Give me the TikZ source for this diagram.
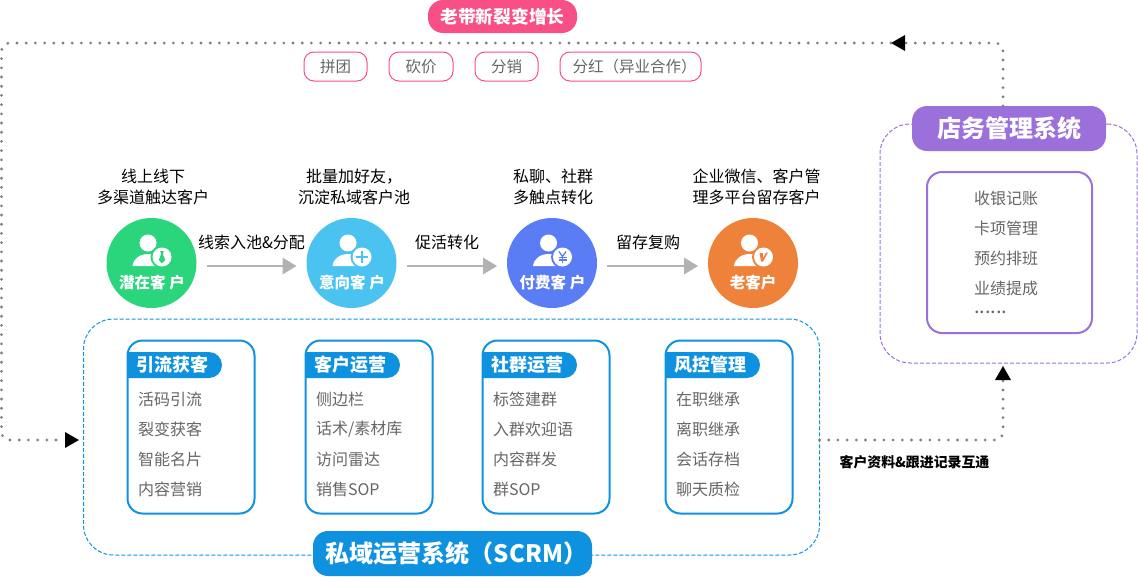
\documentclass[tikz,border=0pt]{standalone}
\usepackage{fontspec}
\setmainfont{Noto Sans CJK SC}
\usetikzlibrary{arrows.meta,shapes.misc}
\definecolor{RoseTag}{HTML}{F94F87}
\definecolor{ScrmBlue}{HTML}{0E92E0}
\definecolor{ShopPurple}{HTML}{9B70DB}
\definecolor{DotGray}{HTML}{7F7F7F}
\definecolor{FlowGray}{HTML}{B2B2B2}
\definecolor{ItemGray}{HTML}{666666}
\definecolor{LeadGreen}{HTML}{2AD57C}
\definecolor{IntentBlue}{HTML}{4AC3F0}
\definecolor{PayIndigo}{HTML}{5A7CF5}
\definecolor{OldOrange}{HTML}{EE823A}
\tikzset{
  every node/.append style={outer sep=0pt},
  dotline/.style={DotGray, line width=3.1pt, line cap=round, dash pattern=on 0pt off 9.2pt, rounded corners=8pt},
  dottip/.style={-{Triangle[length=14pt,width=16pt,line width=0pt,color=black,fill=black]}},
  flow/.style={FlowGray, line width=2pt, -{Triangle[length=14pt,width=17pt,line width=0pt]}, shorten <=10pt, shorten >=10pt},
  frame/.style={line width=1pt, dash pattern=on 4pt off 2pt, rounded corners=30pt, inner sep=0pt},
  client/.style={circle, minimum size=90pt, inner sep=0pt},
  clientname/.style={text=white, inner sep=0pt, font=\fontsize{15.5}{18}\selectfont\bfseries},
  lead/.style={text=black, inner sep=0pt, align=center, font=\fontsize{16}{21}\selectfont},
  item/.style={text=ItemGray, inner sep=0pt, anchor=west, font=\fontsize{16}{20}\selectfont},
  card/.style={draw=ScrmBlue, line width=2pt, fill=white, rounded corners=15pt, minimum width=127pt, minimum height=173pt, inner sep=0pt},
  cardtag/.style={rounded rectangle, rounded rectangle left arc=none, fill=ScrmBlue, text=white, anchor=west, minimum width=95pt, minimum height=26pt, inner sep=0pt, font=\fontsize{18}{20}\selectfont\bfseries},
  promo/.style={draw=RoseTag, line width=1pt, rounded corners=10pt, text=ItemGray, minimum height=29pt, inner sep=0pt, font=\fontsize{15.5}{20}\selectfont},
}
% person with a small badge on the coloured disc
\newcommand{\clientmark}[3]{
\begin{scope}[shift={(#1,0)}]
\fill[white] (-3.5,243) circle (8.5pt);
\fill[white] (-19,266) .. controls (-18,258) and (-11,254) .. (-3,254) .. controls (5,254) and (12,258) .. (13,266) -- cycle;
\fill[#2] (10.5,257) circle (11.5pt);
\fill[white] (10.5,257) circle (9.5pt);
\begin{scope}[shift={(10.5,257)}, #2]
#3
\end{scope}
\end{scope}
}
\begin{document}
\begin{tikzpicture}[x=1pt,y=-1pt]
\useasboundingbox (0,0) rectangle (1138,576);
% dashed frames
\node[draw=ScrmBlue, frame, minimum width=736pt, minimum height=236pt] (scrm) at (451.5,437) {};
\node[draw=ShopPurple, frame, minimum width=257pt, minimum height=239pt] (shopframe) at (1008.5,243.5) {};
% loop of dots
\coordinate (tiptop) at (891,43);
\coordinate (tipleft) at (79,440);
\coordinate (tipshop) at (1003,366);
\coordinate (cornertl) at (1.5,43);
\coordinate (cornerbl) at (1.5,440);
\node[fill=ShopPurple, rounded corners=15pt, text=white, minimum width=194pt, minimum height=45pt, inner sep=0pt, font=\fontsize{24}{28}\selectfont\bfseries] (shop) at (1009,128.5) {店务管理系统};
\draw[dotline, dottip] ([xshift=-6pt]shop.north) |- (tiptop);
\draw[dotline, dottip] (tiptop) -- (cornertl) -- (cornerbl) -- (tipleft);
\draw[dotline, dottip] ([yshift=-3pt]scrm.east) -| (tipshop);
% top tags
\node[fill=RoseTag, rounded corners=15pt, text=white, minimum width=149pt, minimum height=33pt, inner sep=0pt, font=\fontsize{17.7}{20}\selectfont\bfseries] (oldnew) at (502.5,16.5) {老带新裂变增长};
\node[promo, minimum width=63pt] (pintuan) at (335.5,66.5) {拼团};
\node[promo, minimum width=64pt] (kanjia) at (421,66.5) {砍价};
\node[promo, minimum width=63pt] (fenxiao) at (506.5,66.5) {分销};
\node[promo, minimum width=141pt] (fenhong) at (630.5,66.5) {\hspace*{8pt}分红（异业合作）};
% leads above the discs
\node[lead] (leadone) at (153,187) {线上线下\\多渠道触达客户};
\node[lead] (leadtwo) at (354,187) {批量加好友，\\沉淀私域客户池};
\node[lead] (leadthree) at (553,187) {私聊、社群\\多触点转化};
\node[lead] (leadfour) at (756.5,187) {企业微信、客户管\\理多平台留存客户};
% discs
\node[client, fill=LeadGreen] (potential) at (151.5,263) {};
\node[client, fill=IntentBlue] (intent) at (351.5,263) {};
\node[client, fill=PayIndigo] (paying) at (552,263) {};
\node[client, fill=OldOrange] (loyal) at (753,263) {};
%
\clientmark{151.5}{LeadGreen}{\fill (-1.8,-6) -- (1.8,-6) -- (0.9,-3) -- (3.2,3) -- (0,6.5) -- (-3.2,3) -- (-0.9,-3) -- cycle;}
\clientmark{351.5}{IntentBlue}{\draw[line width=2pt] (-6,0) -- (6,0); \draw[line width=2pt] (0,-6) -- (0,6);}
\clientmark{552}{PayIndigo}{\draw[line width=1.3pt] (-3.5,-5.5) -- (0,-0.5) -- (3.5,-5.5); \draw[line width=1.3pt] (0,-0.5) -- (0,6); \draw[line width=1.1pt] (-4,0.5) -- (4,0.5); \draw[line width=1.1pt] (-4,3) -- (4,3);}
\clientmark{753}{OldOrange}{\fill (-4,-4) -- (-0.8,-4) -- (-0.2,1) -- (2.5,-4.5) -- (4.5,-4.5) -- (-0.5,4.5) -- (-2.5,4.5) -- cycle;}
%
\node[clientname] (potentialname) at (152,283) {潜在客 户};
\node[clientname] (intentname) at (352,283) {意向客 户};
\node[clientname] (payingname) at (552.5,283) {付费客 户};
\node[clientname] (loyalname) at (753,283) {老客户};
% flow between the discs
\draw[flow] ([yshift=-3pt]potential.east) -- ([yshift=-3pt]intent.west);
\draw[flow] ([yshift=-3pt]intent.east) -- ([yshift=-3pt]paying.west);
\draw[flow] ([yshift=-3pt]paying.east) -- ([yshift=-3pt]loyal.west);
\node[lead] (flowone) at (251.5,242) {线索入池\&分配};
\node[lead] (flowtwo) at (447,242) {促活转化};
\node[lead] (flowthree) at (648,242) {留存复购};
% scrm cards
\node[card] (cardone) at (191,427) {};
\node[card] (cardtwo) at (369,427) {};
\node[card] (cardthree) at (546,427) {};
\node[card] (cardfour) at (729,427) {};
%
\node[cardtag] (tagone) at (127,365) {引流获客};
\node[cardtag] (tagtwo) at (305,365) {客户运营};
\node[cardtag] (tagthree) at (482,365) {社群运营};
\node[cardtag] (tagfour) at (665,365) {风控管理};
%
\node[item] (itemoa) at (138,399) {活码引流};
\node[item] (itemob) at (138,429) {裂变获客};
\node[item] (itemoc) at (138,459) {智能名片};
\node[item] (itemod) at (138,489) {内容营销};
%
\node[item] (itemta) at (316,399) {侧边栏};
\node[item] (itemtb) at (316,429) {话术/素材库};
\node[item] (itemtc) at (316,459) {访问雷达};
\node[item] (itemtd) at (316,489) {销售SOP};
%
\node[item] (itemra) at (493,399) {标签建群};
\node[item] (itemrb) at (493,429) {入群欢迎语};
\node[item] (itemrc) at (493,459) {内容群发};
\node[item] (itemrd) at (493,489) {群SOP};
%
\node[item] (itemfa) at (676,399) {在职继承};
\node[item] (itemfb) at (676,429) {离职继承};
\node[item] (itemfc) at (676,459) {会话存档};
\node[item] (itemfd) at (676,489) {聊天质检};
%
\node[fill=ScrmBlue, rounded corners=15pt, text=white, minimum width=279pt, minimum height=45pt, inner sep=0pt, font=\fontsize{24}{28}\selectfont\bfseries] (scrmtitle) at (452.5,553.5) {\hspace*{8pt}私域运营系统（SCRM）};
\node[text=black, inner sep=0pt, font=\fontsize{13.9}{16}\selectfont\bfseries] (syncnote) at (914.5,462) {客户资料\&跟进记录互通};
% shop card
\node[draw=ShopPurple, line width=2pt, fill=white, rounded corners=15pt, minimum width=165pt, minimum height=161pt, inner sep=0pt] (shopcard) at (1009.5,252.5) {};
\node[item] (shopa) at (974,198) {收银记账};
\node[item] (shopb) at (974,228) {卡项管理};
\node[item] (shopc) at (974,258) {预约排班};
\node[item] (shopd) at (974,288) {业绩提成};
\node[item, font=\fontsize{20}{20}\selectfont] (shope) at (974,312) {......};
\end{tikzpicture}
\end{document}
